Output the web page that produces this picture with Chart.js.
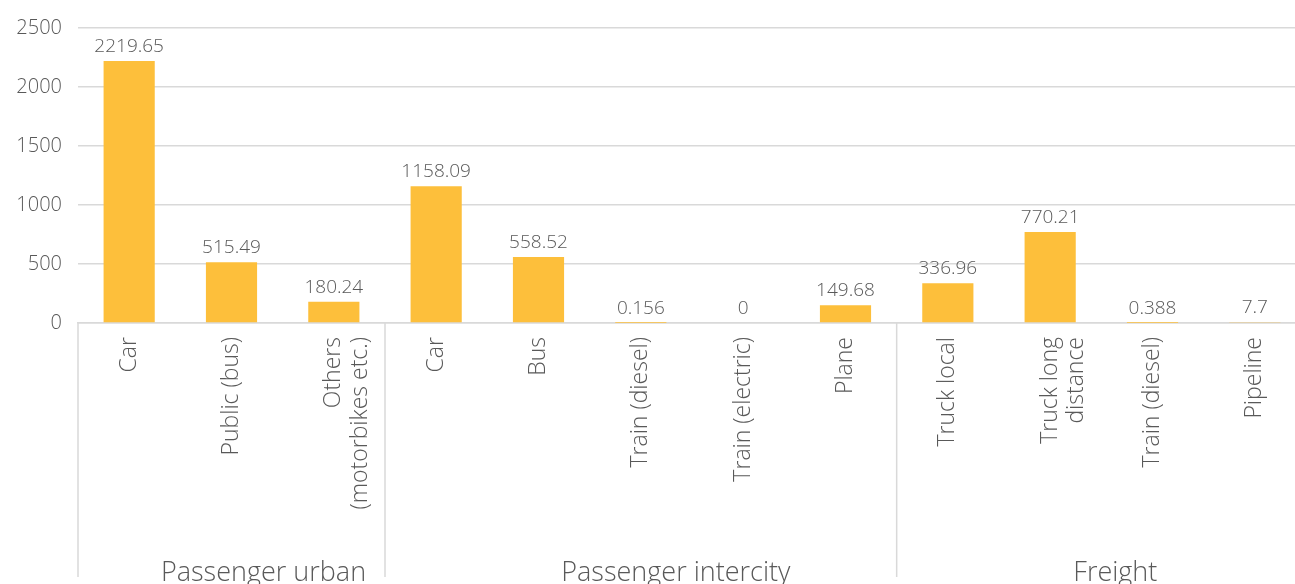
<!DOCTYPE html>
<html>
<head>
<meta charset="utf-8">
<script src="https://cdn.jsdelivr.net/npm/chart.js@4"></script>
<style>
  html, body { margin: 0; padding: 0; background: #fff; overflow: hidden; }
  #wrap { width: 1306px; height: 590px; }
</style>
</head>
<body>
<div id="wrap"><canvas id="chart"></canvas></div>
<script>
const categories = [
  "Car", "Public (bus)", ["Others", "(motorbikes etc.)"],
  "Car", "Bus", "Train (diesel)", "Train (electric)", "Plane",
  "Truck local", ["Truck long", "distance"], "Train (diesel)", "Pipeline"
];
const values = [2219.65, 515.49, 180.24, 1158.09, 558.52, 0.156, 0, 149.68, 336.96, 770.21, 0.388, 7.7];
const groupNames = ["Passenger urban", "Passenger intercity", "Freight"];
const groupSizes = [3, 5, 4];
const yTicks = [0, 500, 1000, 1500, 2000, 2500];

const FONT = "'Open Sans', Lato, sans-serif";
const TEXT = "#595959";
const LINE = "#d9d9d9";

// value labels on top of each bar
const valueLabels = {
  id: "valueLabels",
  afterDatasetsDraw(chart) {
    const ctx = chart.ctx;
    const meta = chart.getDatasetMeta(0);
    ctx.save();
    ctx.font = "300 19px " + FONT;
    ctx.fillStyle = TEXT;
    ctx.textAlign = "center";
    ctx.textBaseline = "bottom";
    meta.data.forEach((bar, i) => {
      ctx.fillText(String(values[i]), bar.x, bar.y - 5);
    });
    ctx.restore();
  }
};

// group separators and group names under the category labels
const groupAxis = {
  id: "groupAxis",
  afterDraw(chart) {
    const ctx = chart.ctx;
    const x = chart.scales.x;
    const half = (x.getPixelForValue(1) - x.getPixelForValue(0)) / 2;
    const top = chart.chartArea.bottom;
    const nudge = [32, 35, 14];
    ctx.save();
    ctx.strokeStyle = LINE;
    ctx.lineWidth = 1.5;
    let start = 0;
    groupSizes.forEach((n, g) => {
      const left = x.getPixelForValue(start) - half;
      const right = x.getPixelForValue(start + n - 1) + half;
      ctx.beginPath();
      ctx.moveTo(left, top);
      ctx.lineTo(left, 577);
      ctx.stroke();
      ctx.font = "300 27px " + FONT;
      ctx.fillStyle = TEXT;
      ctx.textAlign = "center";
      ctx.textBaseline = "middle";
      ctx.fillText(groupNames[g], (left + right) / 2 + nudge[g], 573);
      start += n;
    });
    ctx.restore();
  }
};

new Chart(document.getElementById("chart"), {
  type: "bar",
  data: {
    labels: categories,
    datasets: [
      {
        data: values,
        backgroundColor: "#fdbf3b",
        borderWidth: 0,
        barPercentage: 0.5,
        categoryPercentage: 1.0,
      },
    ],
  },
  options: {
    responsive: true,
    maintainAspectRatio: false,
    animation: false,
    layout: { padding: { top: 26, left: 0, right: 0, bottom: 0 } },
    plugins: {
      legend: { display: false },
      tooltip: { enabled: false },
    },
    scales: {
      x: {
        grid: { display: false, drawTicks: false },
        border: { color: LINE, width: 1.5 },
        ticks: {
          color: TEXT,
          font: { family: FONT, size: 23, weight: 300, lineHeight: 1.15 },
          minRotation: 90,
          maxRotation: 90,
          autoSkip: false,
          padding: 14,
        },
        afterFit(scale) {
          scale.height = 267;
        },
      },
      y: {
        min: 0,
        max: 2500,
        afterBuildTicks(scale) {
          scale.ticks = yTicks.map((v) => ({ value: v }));
        },
        grid: { color: LINE, lineWidth: 1.5, drawTicks: false },
        border: { display: false },
        ticks: {
          color: TEXT,
          font: { family: FONT, size: 20, weight: 300 },
          padding: 16,
          callback: (v) => String(v),
        },
        afterFit(scale) {
          scale.width = 78;
        },
      },
    },
  },
  plugins: [valueLabels, groupAxis],
});
</script>
</body>
</html>
